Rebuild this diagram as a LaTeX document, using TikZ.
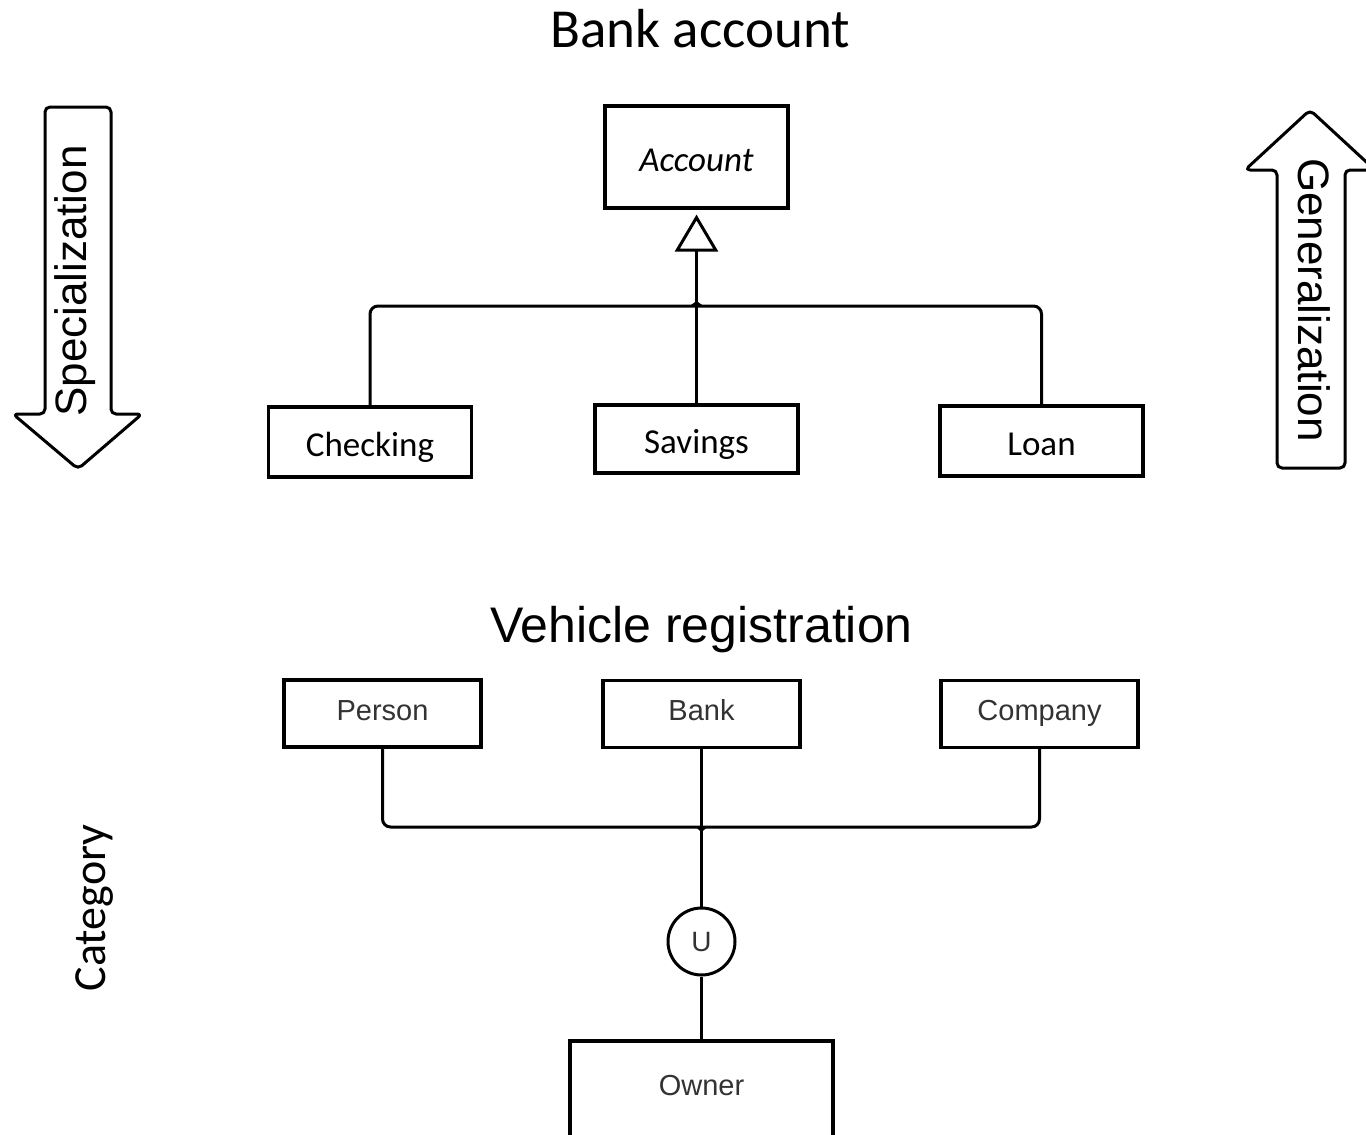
\documentclass[tikz,border=0pt]{standalone}
\usepackage{fontspec}
\setmainfont{Carlito}
\newfontfamily\arial{Liberation Sans}
\usetikzlibrary{arrows.meta}
\begin{document}
\begin{tikzpicture}[x=1pt,y=-1pt,
  box/.style={draw, line width=3.2pt, inner sep=0pt},
  bankbox/.style={box, minimum width=203pt, minimum height=70pt, font=\fontsize{35}{40}\selectfont, text height=29pt, text depth=0pt},
  vbox/.style={box, minimum width=197pt, minimum height=67pt, font=\arial\fontsize{29}{34}\selectfont, text=black!80, text height=13pt, text depth=0pt},
  conn/.style={line width=3pt},
  bigarrow/.style={line width=3pt, rounded corners=5pt, line join=round}
]
\useasboundingbox (0,0) rectangle (1366,1135);
\clip (0,0) rectangle (1366,1135);
\fill[white] (0,0) rectangle (1366,1135);

% ---------- Bank account ----------
\node[anchor=base, font=\fontsize{55}{60}\selectfont] (t1) at (700,47) {Bank account};
\node[box, minimum width=183pt, minimum height=102pt, font=\itshape\fontsize{35}{40}\selectfont, text height=28pt, text depth=0pt] (account) at (696.5,157) {Account};
\node[bankbox] (checking) at (370,442) {Checking};
\node[bankbox, minimum height=68pt] (savings) at (696.5,439) {Savings};
\node[bankbox] (loan) at (1041.5,441) {Loan};
\coordinate (j1) at (696.5,306);
\draw[conn, rounded corners=8pt] (checking.north) |- (j1) -| (loan.north);
\draw[conn, -{Triangle[open,length=37pt,width=43pt,line width=3pt]}, shorten >=5pt] (savings.north) -- (account.south);
\fill ([xshift=-7pt]j1) -- ([yshift=5pt]j1) -- ([xshift=7pt]j1) -- cycle;

% ---------- big arrows ----------
\draw[bigarrow] (78,469) -- (142,414) -- (111,414) -- (111,107) -- (45,107) -- (45,414) -- (13,414) -- cycle;
\node[rotate=90, anchor=base, font=\arial\fontsize{44}{50}\selectfont] (spec) at (86.5,281) {Specialization};
\draw[bigarrow] (1310,110) -- (1375,170) -- (1345,170) -- (1345,468) -- (1277,468) -- (1277,170) -- (1245,170) -- cycle;
\node[rotate=-90, anchor=base, font=\arial\fontsize{44}{50}\selectfont] (gen) at (1298,300) {Generalization};

% ---------- Vehicle registration ----------
\node[anchor=base, font=\arial\fontsize{50}{56}\selectfont] (t2) at (701.5,642) {Vehicle registration};
\node[vbox] (person) at (382.5,713.5) {Person};
\node[vbox] (bank) at (701.5,714) {Bank};
\node[vbox] (company) at (1039.5,714) {Company};
\node[draw, circle, line width=3pt, minimum size=67pt, inner sep=0pt, font=\arial\fontsize{28}{32}\selectfont, text=black!80] (u) at (701.5,941.5) {U};
\node[box, minimum width=263pt, minimum height=150pt, font=\arial\fontsize{29}{34}\selectfont, text=black!80, text height=0pt, text depth=42pt] (owner) at (701.5,1116) {Owner};
\coordinate (j2) at (701.5,827);
\draw[conn, rounded corners=8pt] (person.south) |- (j2) -| (company.south);
\draw[conn] (bank.south) -- (u.north);
\draw[conn] (u.south) -- (owner.north);
\fill ([xshift=-6pt]j2) -- ([yshift=-5pt]j2) -- ([xshift=6pt]j2) -- cycle;

\node[rotate=90, anchor=base, font=\fontsize{46}{50}\selectfont] (cat) at (105,908) {Category};
\end{tikzpicture}
\end{document}
